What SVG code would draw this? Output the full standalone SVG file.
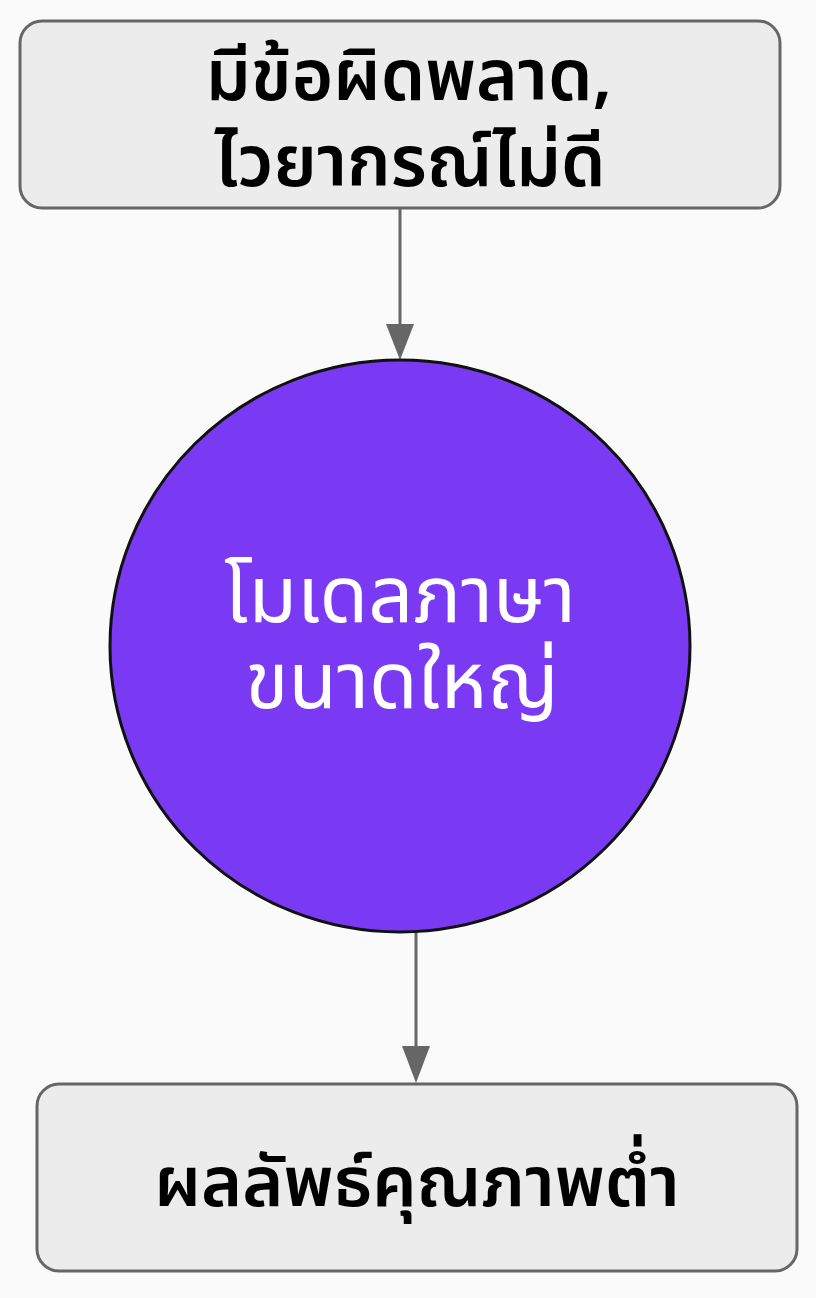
<svg xmlns="http://www.w3.org/2000/svg" width="816" height="1298" viewBox="0 0 816 1298">
<defs>
<style>
.box{fill:#ececec;stroke:#666;stroke-width:3}
.circ{fill:#7a39f3;stroke:#111;stroke-width:3}
.edge{stroke:#666;stroke-width:3;fill:none}
.head{fill:#666}
.t{font-family:"Noto Sans Thai","Noto Sans","DejaVu Sans",sans-serif;text-anchor:middle}
.dark{fill:#000;font-weight:600}
.light{fill:#fff;font-weight:normal}
</style>
</defs>
<rect width="816" height="1298" fill="#fafafa"/>
<g id="connectors">
<line class="edge" x1="400" y1="208" x2="400" y2="326"/>
<path class="head" d="M386,324 L414,324 L400,360 z"/>
<line class="edge" x1="416" y1="932" x2="416" y2="1048"/>
<path class="head" d="M402,1046 L430,1046 L416,1083 z"/>
</g>
<g id="node-errors">
<rect class="box" x="20" y="21" width="760" height="187" rx="22"/>
<text class="t dark" font-size="71"><tspan x="409" y="100">มีข้อผิดพลาด,</tspan><tspan x="410" y="186">ไวยากรณ์ไม่ดี</tspan></text>
</g>
<g id="node-llm">
<ellipse class="circ" cx="400" cy="646" rx="290" ry="286"/>
<text class="t light" font-size="79"><tspan x="400" y="622">โมเดลภาษา</tspan><tspan x="402" y="708">ขนาดใหญ่</tspan></text>
</g>
<g id="node-result">
<rect class="box" x="37" y="1084" width="760" height="187" rx="22"/>
<text class="t dark" x="417" y="1206" font-size="70">ผลลัพธ์คุณภาพต่ำ</text>
</g>
</svg>
